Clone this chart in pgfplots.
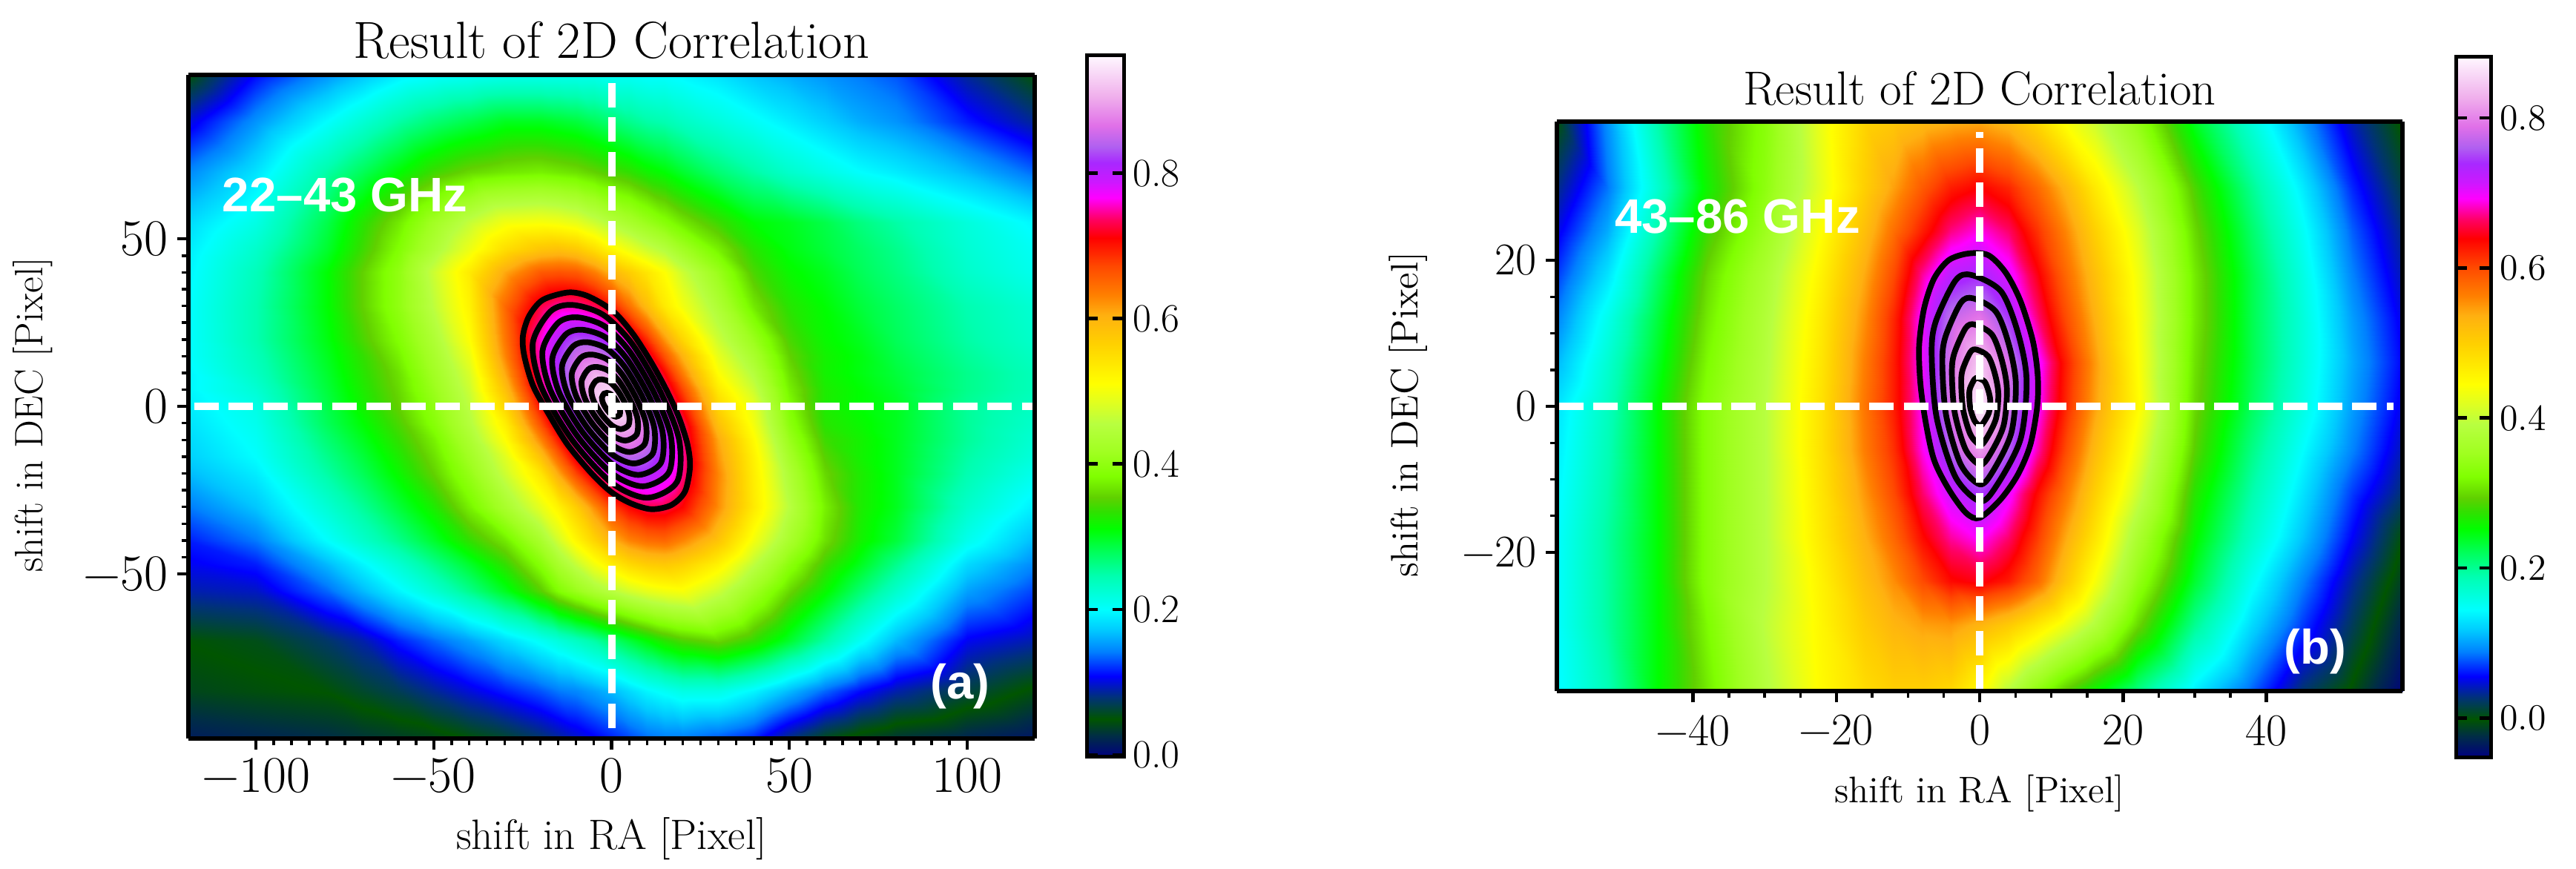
\documentclass[border=0pt]{standalone}
\usepackage{fontspec}
\usepackage{pgfplots}
\pgfplotsset{compat=1.18}
\newfontfamily\hv{Liberation Sans}
\pgfplotsset{
  colormap={ncar}{
    rgb255(0pt)=(0,0,128); rgb255(30pt)=(0,45,70); rgb255(54pt)=(0,85,0); rgb255(85pt)=(0,50,120);
    rgb255(115pt)=(0,0,255); rgb255(150pt)=(0,128,255); rgb255(180pt)=(0,200,255); rgb255(210pt)=(0,255,255);
    rgb255(258pt)=(0,255,176); rgb255(290pt)=(0,255,96); rgb255(325pt)=(0,255,0); rgb255(350pt)=(48,224,0);
    rgb255(370pt)=(96,208,0); rgb255(400pt)=(128,255,0); rgb255(434pt)=(160,255,32); rgb255(475pt)=(184,255,64);
    rgb255(505pt)=(224,255,32); rgb255(532pt)=(255,255,0); rgb255(590pt)=(255,208,0); rgb255(630pt)=(255,176,16);
    rgb255(658pt)=(255,128,0); rgb255(700pt)=(255,72,0); rgb255(740pt)=(255,0,0); rgb255(766pt)=(255,0,96);
    rgb255(797pt)=(255,0,255); rgb255(820pt)=(204,24,255); rgb255(847pt)=(168,40,255); rgb255(870pt)=(176,96,240);
    rgb255(900pt)=(224,112,232); rgb255(942pt)=(240,176,236); rgb255(1000pt)=(255,248,255)
  },
  corr/.style={
    view={0}{90}, scale only axis, axis on top, anchor=south west,
    xtick pos=lower, ytick pos=lower, tick align=outside,
    axis line style={line width=.06cm},
    major tick style={line width=.045cm, black},
    minor tick style={line width=.035cm, black},
    major tick length=.15cm, minor tick length=.09cm,
    minor x tick num=9, minor y tick num=9,
    colormap name=ncar, colorbar,
  },
  contour/.style={black, line width=.077cm, smooth cycle, no marks},
  cross/.style={white, line width=.1cm, dash pattern=on .33cm off .135cm, no marks},
}
\begin{document}
\begin{tikzpicture}
\useasboundingbox (0,0) rectangle (34.73,11.71);

\begin{axis}[corr, at={(2.54cm,1.755cm)}, width=11.41cm, height=8.947cm,
  xmin=-119, xmax=119, ymin=-99, ymax=99,
  xtick={-100,-50,0,50,100}, ytick={-50,0,50},
  xticklabels={−100,−50,0,50,100}, yticklabels={−50,0,50},
  point meta min=-0.003, point meta max=0.962,
  tick label style={font=\fontsize{19.8}{21}\selectfont},
  title={Result of 2D Correlation},
  title style={font=\fontsize{20}{22}\selectfont, yshift=-.12cm},
  xlabel={shift in RA [Pixel]}, ylabel={shift in DEC [Pixel]},
  xlabel style={font=\fontsize{16.3}{18}\selectfont, yshift=-.08cm},
  ylabel style={font=\fontsize{15.2}{17}\selectfont, yshift=.18cm, xshift=-.11cm},
  colorbar style={at={(parent axis.north east)}, anchor=north west, xshift=.40cm, yshift=.26cm,
    width=.5cm, height=9.46cm, ytick={0,0.2,0.4,0.6,0.8}, yticklabels={0.0,0.2,0.4,0.6,0.8},
    yticklabel style={font=\fontsize{15.4}{17}\selectfont},
    axis line style={line width=.05cm}, major tick length=.15cm, minor y tick num=0},
]
\addplot3[surf, shader=interp, mesh/cols=25] coordinates {
(-119,-99,.015)(-100,-99,.02)(-80,-99,.025)(-70,-99,.03)(-60,-99,.035)(-50,-99,.04)(-40,-99,.05)(-30,-99,.06)(-20,-99,.075)(-15,-99,.085)(-10,-99,.095)(-5,-99,.105)(0,-99,.115)(5,-99,.125)(10,-99,.135)(15,-99,.14)(20,-99,.14)(30,-99,.13)(40,-99,.115)(50,-99,.08)(60,-99,.055)(70,-99,.04)(80,-99,.03)(100,-99,.02)(119,-99,.01)
(-119,-85,.04)(-100,-85,.045)(-80,-85,.05)(-70,-85,.06)(-60,-85,.07)(-50,-85,.085)(-40,-85,.10)(-30,-85,.115)(-20,-85,.13)(-15,-85,.14)(-10,-85,.145)(-5,-85,.155)(0,-85,.165)(5,-85,.18)(10,-85,.195)(15,-85,.205)(20,-85,.215)(30,-85,.215)(40,-85,.195)(50,-85,.165)(60,-85,.135)(70,-85,.11)(80,-85,.09)(100,-85,.065)(119,-85,.045)
(-119,-70,.05)(-100,-70,.055)(-80,-70,.075)(-70,-70,.09)(-60,-70,.115)(-50,-70,.135)(-40,-70,.155)(-30,-70,.18)(-20,-70,.205)(-15,-70,.22)(-10,-70,.235)(-5,-70,.25)(0,-70,.27)(5,-70,.29)(10,-70,.31)(15,-70,.33)(20,-70,.345)(30,-70,.36)(40,-70,.335)(50,-70,.295)(60,-70,.25)(70,-70,.205)(80,-70,.165)(100,-70,.105)(119,-70,.09)
(-119,-55,.09)(-100,-55,.095)(-80,-55,.135)(-70,-55,.165)(-60,-55,.195)(-50,-55,.225)(-40,-55,.26)(-30,-55,.30)(-20,-55,.35)(-15,-55,.385)(-10,-55,.41)(-5,-55,.435)(0,-55,.455)(5,-55,.475)(10,-55,.49)(15,-55,.50)(20,-55,.505)(30,-55,.47)(40,-55,.415)(50,-55,.36)(60,-55,.315)(70,-55,.27)(80,-55,.23)(100,-55,.155)(119,-55,.125)
(-119,-47,.105)(-100,-47,.115)(-80,-47,.165)(-70,-47,.195)(-60,-47,.225)(-50,-47,.26)(-40,-47,.295)(-30,-47,.335)(-20,-47,.39)(-15,-47,.43)(-10,-47,.465)(-5,-47,.50)(0,-47,.53)(5,-47,.555)(10,-47,.57)(15,-47,.575)(20,-47,.565)(30,-47,.525)(40,-47,.46)(50,-47,.395)(60,-47,.34)(70,-47,.30)(80,-47,.26)(100,-47,.18)(119,-47,.145)
(-119,-40,.115)(-100,-40,.14)(-80,-40,.20)(-70,-40,.23)(-60,-40,.26)(-50,-40,.295)(-40,-40,.335)(-30,-40,.37)(-20,-40,.43)(-15,-40,.475)(-10,-40,.52)(-5,-40,.56)(0,-40,.60)(5,-40,.63)(10,-40,.645)(15,-40,.65)(20,-40,.63)(30,-40,.58)(40,-40,.50)(50,-40,.43)(60,-40,.365)(70,-40,.32)(80,-40,.29)(100,-40,.21)(119,-40,.165)
(-119,-30,.14)(-100,-30,.17)(-80,-30,.225)(-70,-30,.255)(-60,-30,.29)(-50,-30,.325)(-40,-30,.375)(-30,-30,.43)(-20,-30,.49)(-15,-30,.525)(-10,-30,.57)(-5,-30,.625)(0,-30,.675)(5,-30,.71)(10,-30,.73)(15,-30,.73)(20,-30,.71)(30,-30,.625)(40,-30,.535)(50,-30,.455)(60,-30,.375)(70,-30,.325)(80,-30,.30)(100,-30,.23)(119,-30,.19)
(-119,-20,.165)(-100,-20,.19)(-80,-20,.25)(-70,-20,.28)(-60,-20,.315)(-50,-20,.355)(-40,-20,.405)(-30,-20,.47)(-20,-20,.54)(-15,-20,.61)(-10,-20,.675)(-5,-20,.73)(0,-20,.775)(5,-20,.80)(10,-20,.81)(15,-20,.785)(20,-20,.745)(30,-20,.63)(40,-20,.53)(50,-20,.44)(60,-20,.36)(70,-20,.325)(80,-20,.30)(100,-20,.245)(119,-20,.21)
(-119,-15,.175)(-100,-15,.20)(-80,-15,.26)(-70,-15,.29)(-60,-15,.325)(-50,-15,.365)(-40,-15,.42)(-30,-15,.485)(-20,-15,.585)(-15,-15,.655)(-10,-15,.725)(-5,-15,.775)(0,-15,.82)(5,-15,.845)(10,-15,.835)(15,-15,.80)(20,-15,.75)(30,-15,.62)(40,-15,.525)(50,-15,.425)(60,-15,.35)(70,-15,.32)(80,-15,.30)(100,-15,.25)(119,-15,.22)
(-119,-10,.18)(-100,-10,.205)(-80,-10,.27)(-70,-10,.30)(-60,-10,.335)(-50,-10,.375)(-40,-10,.435)(-30,-10,.51)(-20,-10,.63)(-15,-10,.70)(-10,-10,.765)(-5,-10,.82)(0,-10,.87)(5,-10,.88)(10,-10,.855)(15,-10,.805)(20,-10,.745)(30,-10,.61)(40,-10,.515)(50,-10,.41)(60,-10,.34)(70,-10,.32)(80,-10,.30)(100,-10,.255)(119,-10,.225)
(-119,-5,.185)(-100,-5,.21)(-80,-5,.28)(-70,-5,.31)(-60,-5,.345)(-50,-5,.39)(-40,-5,.45)(-30,-5,.53)(-20,-5,.67)(-15,-5,.74)(-10,-5,.805)(-5,-5,.865)(0,-5,.915)(5,-5,.91)(10,-5,.855)(15,-5,.795)(20,-5,.735)(30,-5,.585)(40,-5,.50)(50,-5,.395)(60,-5,.33)(70,-5,.315)(80,-5,.30)(100,-5,.255)(119,-5,.23)
(-119,0,.19)(-100,0,.215)(-80,0,.285)(-70,0,.32)(-60,0,.355)(-50,0,.40)(-40,0,.46)(-30,0,.56)(-20,0,.705)(-15,0,.77)(-10,0,.84)(-5,0,.90)(0,0,.96)(5,0,.905)(10,0,.84)(15,0,.775)(20,0,.705)(30,0,.56)(40,0,.49)(50,0,.385)(60,0,.325)(70,0,.31)(80,0,.30)(100,0,.255)(119,0,.235)
(-119,5,.195)(-100,5,.225)(-80,5,.29)(-70,5,.325)(-60,5,.36)(-50,5,.41)(-40,5,.47)(-30,5,.585)(-20,5,.735)(-15,5,.80)(-10,5,.86)(-5,5,.92)(0,5,.935)(5,5,.875)(10,5,.81)(15,5,.745)(20,5,.675)(30,5,.535)(40,5,.47)(50,5,.375)(60,5,.325)(70,5,.31)(80,5,.295)(100,5,.26)(119,5,.24)
(-119,10,.195)(-100,10,.235)(-80,10,.295)(-70,10,.33)(-60,10,.365)(-50,10,.42)(-40,10,.48)(-30,10,.61)(-20,10,.75)(-15,10,.81)(-10,10,.87)(-5,10,.905)(0,10,.89)(5,10,.835)(10,10,.775)(15,10,.71)(20,10,.635)(30,10,.51)(40,10,.45)(50,10,.365)(60,10,.32)(70,10,.305)(80,10,.29)(100,10,.26)(119,10,.24)
(-119,15,.20)(-100,15,.24)(-80,15,.30)(-70,15,.335)(-60,15,.375)(-50,15,.43)(-40,15,.495)(-30,15,.63)(-20,15,.76)(-15,15,.815)(-10,15,.855)(-5,15,.865)(0,15,.84)(5,15,.79)(10,15,.735)(15,15,.665)(20,15,.60)(30,15,.49)(40,15,.43)(50,15,.355)(60,15,.32)(70,15,.305)(80,15,.285)(100,15,.255)(119,15,.235)
(-119,20,.20)(-100,20,.245)(-80,20,.305)(-70,20,.345)(-60,20,.385)(-50,20,.44)(-40,20,.51)(-30,20,.64)(-20,20,.76)(-15,20,.805)(-10,20,.83)(-5,20,.825)(0,20,.795)(5,20,.75)(10,20,.69)(15,20,.62)(20,20,.56)(30,20,.47)(40,20,.41)(50,20,.345)(60,20,.315)(70,20,.30)(80,20,.28)(100,20,.25)(119,20,.23)
(-119,30,.20)(-100,30,.245)(-80,30,.31)(-70,30,.355)(-60,30,.40)(-50,30,.46)(-40,30,.525)(-30,30,.65)(-20,30,.73)(-15,30,.75)(-10,30,.75)(-5,30,.735)(0,30,.70)(5,30,.645)(10,30,.59)(15,30,.535)(20,30,.50)(30,30,.44)(40,30,.37)(50,30,.33)(60,30,.31)(70,30,.29)(80,30,.275)(100,30,.245)(119,30,.225)
(-119,40,.195)(-100,40,.24)(-80,40,.31)(-70,40,.355)(-60,40,.40)(-50,40,.47)(-40,40,.535)(-30,40,.61)(-20,40,.66)(-15,40,.665)(-10,40,.66)(-5,40,.635)(0,40,.60)(5,40,.57)(10,40,.54)(15,40,.51)(20,40,.47)(30,40,.41)(40,40,.345)(50,40,.315)(60,40,.30)(70,40,.28)(80,40,.265)(100,40,.23)(119,40,.21)
(-119,47,.19)(-100,47,.23)(-80,47,.295)(-70,47,.34)(-60,47,.385)(-50,47,.44)(-40,47,.495)(-30,47,.55)(-20,47,.58)(-15,47,.585)(-10,47,.575)(-5,47,.55)(0,47,.52)(5,47,.495)(10,47,.47)(15,47,.45)(20,47,.42)(30,47,.375)(40,47,.33)(50,47,.305)(60,47,.29)(70,47,.275)(80,47,.26)(100,47,.225)(119,47,.205)
(-119,55,.18)(-100,55,.215)(-80,55,.285)(-70,55,.33)(-60,55,.37)(-50,55,.42)(-40,55,.465)(-30,55,.50)(-20,55,.505)(-15,55,.50)(-10,55,.49)(-5,55,.47)(0,55,.45)(5,55,.43)(10,55,.41)(15,55,.39)(20,55,.37)(30,55,.34)(40,55,.31)(50,55,.30)(60,55,.285)(70,55,.265)(80,55,.25)(100,55,.22)(119,55,.195)
(-119,70,.145)(-100,70,.185)(-80,70,.25)(-70,70,.28)(-60,70,.31)(-50,70,.34)(-40,70,.36)(-30,70,.37)(-20,70,.375)(-15,70,.37)(-10,70,.365)(-5,70,.355)(0,70,.345)(5,70,.335)(10,70,.32)(15,70,.31)(20,70,.295)(30,70,.27)(40,70,.25)(50,70,.23)(60,70,.215)(70,70,.20)(80,70,.19)(100,70,.165)(119,70,.135)
(-119,85,.10)(-100,85,.15)(-80,85,.20)(-70,85,.225)(-60,85,.25)(-50,85,.27)(-40,85,.285)(-30,85,.30)(-20,85,.30)(-15,85,.295)(-10,85,.29)(-5,85,.28)(0,85,.27)(5,85,.26)(10,85,.25)(15,85,.245)(20,85,.235)(30,85,.22)(40,85,.205)(50,85,.19)(60,85,.175)(70,85,.16)(80,85,.15)(100,85,.115)(119,85,.085)
(-119,99,.05)(-100,99,.11)(-80,99,.15)(-70,99,.17)(-60,99,.19)(-50,99,.20)(-40,99,.205)(-30,99,.21)(-20,99,.21)(-15,99,.21)(-10,99,.21)(-5,99,.21)(0,99,.205)(5,99,.205)(10,99,.20)(15,99,.20)(20,99,.195)(30,99,.185)(40,99,.17)(50,99,.16)(60,99,.15)(70,99,.14)(80,99,.13)(100,99,.085)(119,99,.05)
};
\addplot[contour] coordinates {(-12.39,34.0)(-7.52,33.26)(-2.65,30.68)(1.53,27.36)(6.4,21.09)(11.27,12.98)(15.44,4.87)(18.93,-3.24)(21.36,-11.36)(22.06,-17.99)(20.66,-25.37)(16.84,-29.42)(11.27,-30.68)(5.7,-29.05)(.14,-25.74)(-5.43,-20.21)(-12.39,-11.36)(-17.96,-1.77)(-22.13,6.34)(-24.56,15.19)(-24.92,21.09)(-23.18,26.99)(-19.35,31.79)};
\addplot[contour] coordinates {(-11.02,30.30)(-2.35,27.35)(5.70,18.81)(13.75,4.37)(19.02,-10.07)(18.40,-22.54)(10.04,-27.26)(.13,-22.87)(-11.02,-10.07)(-19.69,5.68)(-22.17,18.81)(-17.21,28.33)};
\addplot[contour] coordinates {(-9.66,26.60)(-2.06,24.01)(5.0,16.53)(12.05,3.88)(16.67,-8.78)(16.12,-19.71)(8.80,-23.85)(.12,-20.0)(-9.66,-8.78)(-17.25,5.03)(-19.43,16.53)(-15.09,24.88)};
\addplot[contour] coordinates {(-8.29,22.89)(-1.76,20.67)(4.30,14.24)(10.36,3.37)(14.33,-7.50)(13.86,-16.89)(7.57,-20.44)(.11,-17.13)(-8.29,-7.50)(-14.81,4.36)(-16.68,14.24)(-12.95,21.41)};
\addplot[contour] coordinates {(-6.92,19.19)(-1.47,17.33)(3.60,11.96)(8.66,2.88)(11.98,-6.21)(11.58,-14.06)(6.32,-17.03)(.09,-14.26)(-6.92,-6.21)(-12.38,3.70)(-13.94,11.96)(-10.82,17.95)};
\addplot[contour] coordinates {(-5.55,15.49)(-1.17,14.0)(2.90,9.68)(6.97,2.38)(9.63,-4.92)(9.32,-11.22)(5.09,-13.61)(.09,-11.39)(-5.55,-4.92)(-9.94,3.05)(-11.19,9.68)(-8.69,14.50)};
\addplot[contour] coordinates {(-4.18,11.79)(-.87,10.66)(2.21,7.40)(5.28,1.89)(7.29,-3.63)(7.05,-8.39)(3.86,-10.20)(.08,-8.52)(-4.18,-3.63)(-7.49,2.39)(-8.44,7.40)(-6.55,11.04)};
\addplot[contour] coordinates {(-2.82,8.09)(-.58,7.33)(1.5,5.12)(3.58,1.39)(4.94,-2.34)(4.78,-5.56)(2.62,-6.78)(.06,-5.65)(-2.82,-2.34)(-5.06,1.73)(-5.7,5.12)(-4.42,7.59)};
\addplot[contour] coordinates {(-1.33,4.06)(-.26,3.69)(.74,2.64)(1.73,.86)(2.38,-.93)(2.30,-2.47)(1.27,-3.06)(.05,-2.51)(-1.33,-.93)(-2.40,1.02)(-2.71,2.64)(-2.10,3.82)};
\addplot[cross] coordinates {(-117.4,0)(119,0)};
\addplot[cross] coordinates {(0,-96)(0,98.5)};
\node[white, anchor=west, font=\hv\bfseries\fontsize{18.6}{20}\selectfont] at (axis cs:-112,63) {22–43 GHz};
\node[white, font=\hv\bfseries\fontsize{18.6}{20}\selectfont] at (axis cs:98,-83.6) {(a)};
\end{axis}

\begin{axis}[corr, at={(20.99cm,2.39cm)}, width=11.40cm, height=7.68cm,
  xmin=-59, xmax=59, ymin=-39, ymax=39,
  xtick={-40,-20,0,20,40}, ytick={-20,0,20},
  xticklabels={−40,−20,0,20,40}, yticklabels={−20,0,20},
  minor x tick num=3, minor y tick num=3,
  point meta min=-0.052, point meta max=0.882,
  tick label style={font=\fontsize{17.4}{19}\selectfont},
  xticklabel style={yshift=-.05cm},
  title={Result of 2D Correlation},
  title style={font=\fontsize{18.35}{20}\selectfont, yshift=-.12cm},
  xlabel={shift in RA [Pixel]}, ylabel={shift in DEC [Pixel]},
  xlabel style={font=\fontsize{14.2}{16}\selectfont, yshift=-.15cm},
  ylabel style={font=\fontsize{14.7}{16}\selectfont, yshift=.23cm, xshift=-.11cm},
  colorbar style={at={(parent axis.north east)}, anchor=north west, xshift=.42cm, yshift=.88cm,
    width=.47cm, height=9.45cm, ytick={0,0.2,0.4,0.6,0.8}, yticklabels={0.0,0.2,0.4,0.6,0.8},
    yticklabel style={font=\fontsize{14.2}{16}\selectfont},
    axis line style={line width=.05cm}, major tick length=.15cm, minor y tick num=0},
]
\addplot3[surf, shader=interp, mesh/cols=21] coordinates {
(-59,-39,.14)(-52,-39,.185)(-45,-39,.25)(-38,-39,.31)(-30,-39,.385)(-22,-39,.45)(-16,-39,.485)(-12,-39,.50)(-8,-39,.50)(-4,-39,.49)(0,-39,.45)(4,-39,.39)(8,-39,.335)(12,-39,.29)(16,-39,.255)(22,-39,.205)(30,-39,.135)(38,-39,.08)(45,-39,.025)(52,-39,-.005)(59,-39,-.05)
(-59,-30,.145)(-52,-30,.195)(-45,-30,.25)(-38,-30,.32)(-30,-30,.395)(-22,-30,.455)(-16,-30,.505)(-12,-30,.53)(-8,-30,.545)(-4,-30,.55)(0,-30,.53)(4,-30,.505)(8,-30,.47)(12,-30,.43)(16,-30,.385)(22,-30,.30)(30,-30,.20)(38,-30,.125)(45,-30,.07)(52,-30,.02)(59,-30,-.03)
(-59,-24,.145)(-52,-24,.195)(-45,-24,.25)(-38,-24,.33)(-30,-24,.39)(-22,-24,.46)(-16,-24,.52)(-12,-24,.555)(-8,-24,.60)(-4,-24,.635)(0,-24,.645)(4,-24,.625)(8,-24,.58)(12,-24,.51)(16,-24,.44)(22,-24,.34)(30,-24,.235)(38,-24,.15)(45,-24,.09)(52,-24,.035)(59,-24,-.015)
(-59,-18,.145)(-52,-18,.195)(-45,-18,.25)(-38,-18,.33)(-30,-18,.39)(-22,-18,.47)(-16,-18,.535)(-12,-18,.58)(-8,-18,.635)(-4,-18,.675)(0,-18,.695)(4,-18,.665)(8,-18,.61)(12,-18,.54)(16,-18,.475)(22,-18,.37)(30,-18,.255)(38,-18,.175)(45,-18,.115)(52,-18,.055)(59,-18,.0)
(-59,-12,.14)(-52,-12,.19)(-45,-12,.25)(-38,-12,.33)(-30,-12,.39)(-22,-12,.475)(-16,-12,.55)(-12,-12,.60)(-8,-12,.665)(-4,-12,.715)(0,-12,.745)(4,-12,.70)(8,-12,.635)(12,-12,.57)(16,-12,.50)(22,-12,.405)(30,-12,.27)(38,-12,.19)(45,-12,.13)(52,-12,.07)(59,-12,.025)
(-59,-6,.135)(-52,-6,.185)(-45,-6,.25)(-38,-6,.33)(-30,-6,.39)(-22,-6,.48)(-16,-6,.565)(-12,-6,.615)(-8,-6,.69)(-4,-6,.765)(0,-6,.815)(4,-6,.76)(8,-6,.68)(12,-6,.60)(16,-6,.525)(22,-6,.43)(30,-6,.29)(38,-6,.205)(45,-6,.145)(52,-6,.09)(59,-6,.04)
(-59,0,.13)(-52,0,.18)(-45,0,.25)(-38,0,.33)(-30,0,.39)(-22,0,.48)(-16,0,.57)(-12,0,.625)(-8,0,.695)(-4,0,.79)(0,0,.875)(4,0,.78)(8,0,.70)(12,0,.62)(16,0,.545)(22,0,.45)(30,0,.30)(38,0,.22)(45,0,.16)(52,0,.10)(59,0,.05)
(-59,6,.11)(-52,6,.17)(-45,6,.24)(-38,6,.32)(-30,6,.385)(-22,6,.475)(-16,6,.565)(-12,6,.625)(-8,6,.70)(-4,6,.785)(0,6,.845)(4,6,.785)(8,6,.705)(12,6,.625)(16,6,.55)(22,6,.445)(30,6,.305)(38,6,.225)(45,6,.165)(52,6,.105)(59,6,.055)
(-59,12,.09)(-52,12,.155)(-45,12,.23)(-38,12,.31)(-30,12,.38)(-22,12,.47)(-16,12,.555)(-12,12,.62)(-8,12,.70)(-4,12,.775)(0,12,.795)(4,12,.745)(8,12,.67)(12,12,.60)(16,12,.535)(22,12,.44)(30,12,.31)(38,12,.225)(45,12,.165)(52,12,.10)(59,12,.05)
(-59,18,.07)(-52,18,.13)(-45,18,.215)(-38,18,.30)(-30,18,.37)(-22,18,.46)(-16,18,.54)(-12,18,.60)(-8,18,.675)(-4,18,.725)(0,18,.74)(4,18,.705)(8,18,.645)(12,18,.58)(16,18,.52)(22,18,.435)(30,18,.31)(38,18,.225)(45,18,.16)(52,18,.09)(59,18,.04)
(-59,24,.05)(-52,24,.105)(-45,24,.19)(-38,24,.28)(-30,24,.35)(-22,24,.445)(-16,24,.52)(-12,24,.575)(-8,24,.625)(-4,24,.67)(0,24,.69)(4,24,.665)(8,24,.615)(12,24,.56)(16,24,.50)(22,24,.42)(30,24,.30)(38,24,.215)(45,24,.15)(52,24,.08)(59,24,.03)
(-59,30,.03)(-52,30,.085)(-45,30,.17)(-38,30,.26)(-30,30,.335)(-22,30,.425)(-16,30,.50)(-12,30,.545)(-8,30,.59)(-4,30,.625)(0,30,.64)(4,30,.62)(8,30,.58)(12,30,.53)(16,30,.47)(22,30,.395)(30,30,.285)(38,30,.20)(45,30,.135)(52,30,.065)(59,30,.015)
(-59,39,.0)(-52,39,.095)(-45,39,.19)(-38,39,.27)(-30,39,.33)(-22,39,.43)(-16,39,.495)(-12,39,.51)(-8,39,.525)(-4,39,.535)(0,39,.54)(4,39,.525)(8,39,.49)(12,39,.44)(16,39,.405)(22,39,.34)(30,39,.24)(38,39,.165)(45,39,.10)(52,39,.04)(59,39,-.005)
};
\addplot[contour] coordinates {(-1.55,20.94)(1.21,20.7)(3.62,18.33)(5.69,14.43)(7.41,9.0)(8.1,4.24)(8.03,0)(7.07,-5.26)(5.34,-9.33)(2.93,-12.73)(0,-15.27)(-1.9,-14.6)(-4.31,-11.37)(-6.38,-7.3)(-7.59,-1.87)(-8.28,3.22)(-8.45,8.32)(-7.76,13.41)(-6.38,17.48)(-4.31,20.03)};
\addplot[contour] coordinates {(-1.18,18.0)(2.96,15.77)(5.3,10.2)(6.54,3.71)(5.72,-4.43)(2.4,-10.8)(.06,-13.0)(-3.39,-9.66)(-6.01,-1.52)(-6.7,7.2)(-6.15,11.56)(-3.39,17.22)};
\addplot[contour] coordinates {(-.94,14.8)(2.27,12.96)(4.09,8.39)(5.05,3.04)(4.41,-3.65)(1.84,-8.9)(.02,-10.69)(-2.65,-7.95)(-4.68,-1.26)(-5.22,5.91)(-4.79,9.5)(-2.65,14.16)};
\addplot[contour] coordinates {(-.68,11.2)(1.72,9.82)(3.08,6.37)(3.8,2.35)(3.32,-2.69)(1.4,-6.65)(.04,-7.99)(-1.96,-5.93)(-3.48,-.89)(-3.88,4.51)(-3.56,7.21)(-1.96,10.72)};
\addplot[contour] coordinates {(-.42,7.77)(1.2,6.83)(2.11,4.49)(2.6,1.76)(2.28,-1.66)(.98,-4.35)(.06,-5.27)(-1.29,-3.86)(-2.31,-.44)(-2.58,3.23)(-2.37,5.06)(-1.29,7.44)};
\addplot[contour] coordinates {(-.24,3.86)(.68,3.39)(1.19,2.22)(1.47,.85)(1.29,-.86)(.55,-2.2)(.04,-2.66)(-.73,-1.96)(-1.31,-.25)(-1.46,1.59)(-1.34,2.5)(-.73,3.7)};
\addplot[cross] coordinates {(-58.7,0)(57.8,0)};
\addplot[cross] coordinates {(0,-38.8)(0,37.6)};
\node[white, anchor=west, font=\hv\bfseries\fontsize{18.6}{20}\selectfont] at (axis cs:-52.2,26) {43–86 GHz};
\node[white, font=\hv\bfseries\fontsize{18.6}{20}\selectfont] at (axis cs:46.8,-33.6) {(b)};
\end{axis}
\end{tikzpicture}
\end{document}
